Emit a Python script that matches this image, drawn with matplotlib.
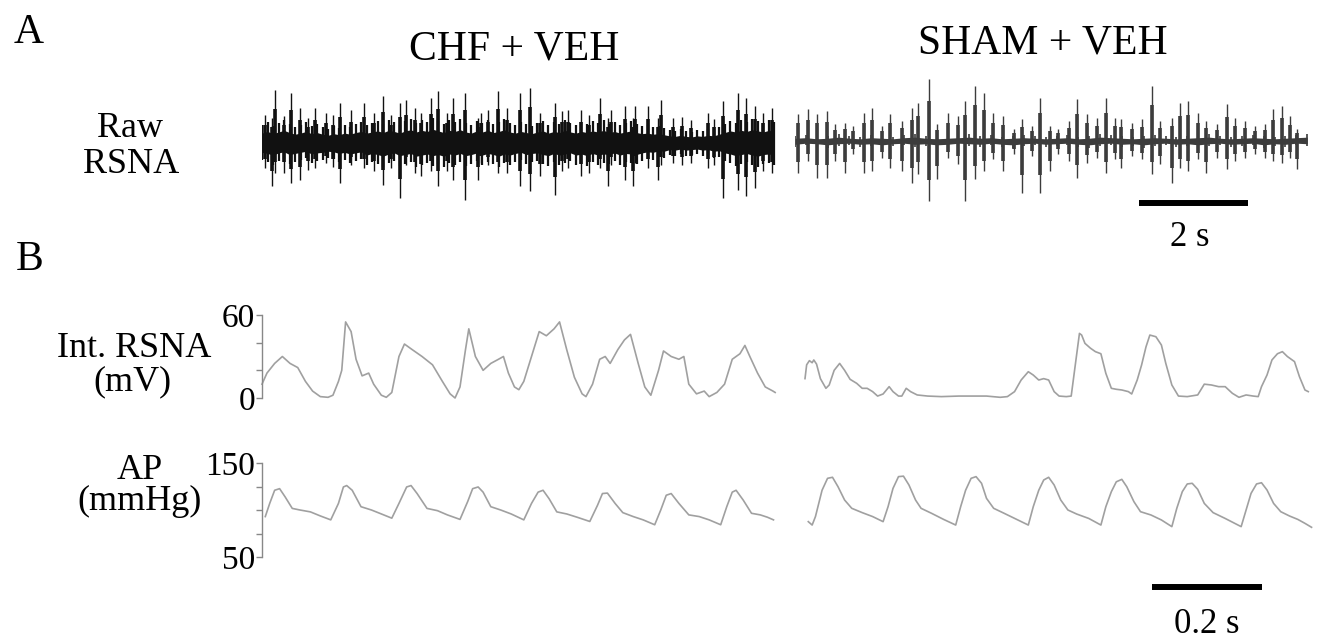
import matplotlib
matplotlib.use('Agg')
import matplotlib.pyplot as plt
import numpy as np

plt.rcParams['font.family'] = ['Liberation Serif', 'DejaVu Serif']

W, H = 1328, 639

# ---- raw RSNA (arbitrary units, 0 = baseline), time in s ----
chf_core_up = [18, 21, 17, 20, 23, 19, 16, 18, 21, 17,
               19, 16, 14, 17, 15, 18, 16, 19, 21, 18,
               20, 22, 19, 23, 21, 18, 22, 24, 20, 23,
               21, 25, 22, 19, 23, 21, 24, 20, 18, 22,
               20, 23, 19, 21, 24, 20, 18, 21, 19, 17,
               20, 22, 18, 21, 19, 23, 20, 18, 21, 19,
               22, 20, 23, 19, 21, 18, 20, 22, 19, 17,
               18, 16, 17, 15, 13, 12, 14, 12, 11, 13,
               12, 14, 13, 16, 19, 22, 20, 23, 21, 24,
               22, 20, 23, 21]
chf_core_dn = [17, 19, 22, 18, 16, 21, 19, 17, 15, 20,
               18, 17, 15, 16, 19, 17, 20, 18, 16, 22,
               19, 21, 24, 20, 18, 23, 21, 19, 24, 22,
               20, 23, 21, 24, 20, 22, 19, 23, 21, 18,
               22, 19, 21, 24, 20, 22, 19, 17, 21, 19,
               18, 21, 23, 19, 22, 20, 18, 22, 20, 23,
               19, 22, 20, 21, 18, 22, 19, 20, 21, 18,
               16, 17, 14, 15, 12, 13, 11, 13, 12, 11,
               13, 12, 15, 14, 18, 20, 23, 21, 19, 22,
               24, 21, 20, 22]
chf_spk_t = [0.05, 0.18, 0.24, 0.40, 0.53, 0.69, 0.85, 0.97, 1.18, 1.30,
             1.43, 1.64, 1.88, 2.05, 2.22, 2.37, 2.53, 2.65, 2.80, 2.92,
             3.11, 3.23, 3.40, 3.51, 3.72, 3.96, 4.02, 4.15, 4.33, 4.50,
             4.73, 4.91, 5.10, 5.37, 5.50, 5.62, 5.86, 6.00, 6.20, 6.35,
             6.41, 6.66, 6.81, 6.84, 7.08, 7.27, 7.33, 7.54, 7.70, 7.88,
             8.18, 8.30, 8.46, 8.73, 8.89, 9.04, 9.20, 9.35]
chf_spk_up = [28, 25, 53, 27, 50, 35, 25, 35, 30, 28,
              40, 33, 40, 30, 47, 28, 40, 43, 35, 30,
              45, 52, 30, 45, 50, 25, 30, 33, 52, 35,
              50, 55, 30, 40, 32, 33, 33, 28, 45, 25,
              33, 37, 25, 37, 37, 25, 43, 25, 26, 23,
              30, 24, 42, 50, 45, 37, 30, 35]
chf_spk_dn = [25, 43, 30, 30, 40, 37, 27, 25, 20, 24,
              40, 22, 25, 28, 42, 25, 55, 22, 30, 33,
              28, 43, 28, 37, 57, 37, 20, 22, 30, 30,
              43, 48, 33, 52, 28, 25, 33, 30, 25, 43,
              22, 37, 43, 20, 25, 37, 22, 20, 22, 20,
              25, 22, 55, 47, 53, 45, 28, 30]

sham_core_up = [5, 6, 4, 5, 7, 5, 4, 6, 5, 4, 6, 7, 5, 4, 5, 6,
                7, 5, 6, 4, 5, 6, 5, 4, 5, 6, 4, 5, 7, 6, 5, 4,
                5, 6, 5, 4, 5, 6, 7, 5, 4, 5, 6, 5, 4, 5, 6, 7]
sham_core_dn = [6, 4, 5, 7, 5, 4, 6, 5, 7, 5, 4, 6, 5, 7, 6, 4,
                5, 6, 4, 6, 7, 5, 4, 6, 5, 4, 6, 7, 5, 4, 6, 5,
                7, 5, 4, 6, 5, 7, 5, 4, 6, 5, 4, 7, 5, 6, 4, 5]
sham_spk_t = [0.06, 0.23, 0.40, 0.58, 0.73, 0.91, 1.07, 1.27, 1.42, 1.59,
              1.74, 1.96, 2.14, 2.26, 2.46, 2.60, 2.81, 3.00, 3.12, 3.30,
              3.47, 3.64, 3.82, 4.01, 4.16, 4.34, 4.50, 4.68, 4.83, 5.02,
              5.17, 5.35, 5.54, 5.71, 5.87, 5.99, 6.18, 6.36, 6.55, 6.70,
              6.91, 7.06, 7.22, 7.40, 7.55, 7.74, 7.92, 8.07, 8.26, 8.44,
              8.62, 8.78, 8.93, 9.08, 9.21]
sham_spk_up = [27, 32, 27, 30, 17, 18, 15, 28, 33, 15,
               27, 20, 33, 38, 62, 17, 28, 25, 40, 55,
               48, 28, 25, 12, 22, 15, 43, 15, 12, 20,
               42, 27, 23, 43, 23, 22, 18, 22, 55, 20,
               23, 38, 40, 28, 20, 17, 37, 23, 20, 15,
               17, 32, 35, 25, 12]
sham_spk_dn = [32, 20, 37, 37, 20, 32, 13, 32, 30, 17,
               27, 30, 42, 33, 60, 38, 17, 23, 60, 38,
               30, 18, 30, 13, 52, 15, 52, 30, 13, 20,
               37, 22, 17, 32, 18, 27, 15, 18, 33, 23,
               42, 27, 30, 18, 32, 17, 28, 20, 17, 13,
               17, 20, 22, 17, 28]

# ---- integrated RSNA (mV), time in ms ----
chf_int_t = [0, 9, 23, 37, 51, 65, 79, 92, 106, 120, 129, 139, 145, 152, 162,
             171, 182, 194, 203, 217, 226, 236, 249, 259, 273, 291, 310, 328,
             342, 351, 360, 370, 376, 388, 402, 416, 430, 439, 448, 459, 467,
             476, 490, 504, 517, 531, 541, 554, 568, 582, 589, 601, 614, 624,
             633, 647, 659, 670, 684, 696, 707, 721, 730, 744, 758, 767, 776,
             790, 804, 813, 827, 841, 855, 869, 878, 887, 901, 915, 929, 933]
chf_int_v = [10, 18, 25, 30, 25, 22, 12, 5, 1, 0.5, 2, 12, 20, 55, 48,
             28, 16, 18, 10, 2, 0.5, 4, 30, 39, 35, 30, 24, 12,
             3, 0, 8, 35, 50, 30, 20, 25, 28, 30, 18, 8, 6,
             12, 30, 48, 45, 50, 55, 35, 15, 3, 1, 10, 28, 30,
             25, 35, 42, 46, 25, 8, 2, 20, 34, 30, 28, 30, 10,
             3, 5, 1, 4, 10, 28, 32, 38, 30, 18, 8, 5, 4]
sham_int_t = [0, 3, 8, 13, 16, 21, 28, 38, 44, 53, 63, 72, 82, 94, 104, 113,
              123, 132, 142, 153, 160, 170, 176, 184, 192, 204, 223, 248, 280,
              305, 330, 355, 368, 381, 393, 406, 415, 425, 434, 443, 453, 462,
              475, 484, 491, 499, 503, 509, 519, 528, 538, 547, 557, 566, 576,
              588, 594, 604, 612, 620, 627, 638, 648, 656, 667, 679, 695, 714,
              726, 739, 752, 764, 777, 789, 802, 815, 824, 830, 840, 849, 859,
              868, 877, 890, 899, 909, 915]
sham_int_v = [14, 24, 27, 25.5, 27.5, 24.5, 14, 7, 9.4, 20, 25, 20, 13.5, 10.6,
              7, 7, 4.6, 1.4, 2.9, 8.2, 4.6, 1.4, 1.4, 7, 4.6, 2.2, 1.4, 1, 1.4,
              1.4, 1.4, 0.5, 1, 4.6, 13, 19, 16.6, 13, 14, 13, 4.6, 1.4,
              1, 1.4, 22.6, 46.7, 45.5, 39.5, 36, 33.5, 32, 17.8, 7, 6.3, 5.8,
              4.6, 2.9, 13, 23.9, 37, 45.5, 44.3, 38.3, 25, 9.4, 1.4, 1, 2.2,
              10, 9.4, 8.2, 8.2, 3.4, 0.5, 2.2, 1.4, 1, 8.2, 16.6, 27.5, 32,
              33.5, 30, 26.3, 15.4, 5.8, 4.6]

# ---- arterial pressure (mmHg), time in ms ----
chf_ap_t = [6, 14, 23, 32, 42, 55, 69, 88, 106, 125, 139, 148, 154, 164, 180,
            199, 217, 236, 249, 263, 271, 282, 300, 319, 337, 360, 374, 383,
            393, 402, 416, 434, 453, 476, 490, 502, 511, 522, 536, 554, 573,
            596, 610, 619, 628, 642, 656, 675, 693, 714, 725, 735, 744, 758,
            776, 795, 813, 834, 845, 855, 862, 875, 890, 906, 919, 930]
chf_ap_v = [93, 107, 121, 122.7, 114, 101.7, 100, 98, 93.7, 89.5, 107, 124.5,
            126, 121, 103.5, 100, 95.8, 91.3, 107, 124.5, 126, 117.5, 101.7,
            99.3, 94.8, 90, 109, 122.7, 124.5, 119, 103.5, 100, 95.8, 89.5,
            107, 119, 121, 112, 98, 95.8, 92.3, 87.8, 105, 117.5, 118, 107,
            97.2, 93, 89.5, 84.3, 100, 115.7, 117.5, 107, 94.8, 93, 89.5,
            84.3, 103.5, 119, 121, 110.5, 96.5, 94.8, 92.3, 89.5]
sham_ap_t = [6, 13, 19, 31, 41, 50, 60, 72, 85, 104, 123, 142, 151, 160, 170,
             179, 189, 201, 211, 230, 252, 274, 283, 292, 302, 311, 321, 330,
             343, 362, 387, 406, 415, 425, 434, 443, 453, 465, 478, 494, 516,
             538, 547, 557, 566, 576, 585, 598, 610, 629, 648, 667, 676, 686,
             695, 704, 714, 726, 742, 764, 793, 802, 811, 821, 830, 840, 852,
             865, 881, 896, 909, 921]
sham_ap_v = [87.6, 84, 93, 121, 133.7, 134.8, 124.8, 110.6, 101.8, 97.2, 93,
             87.6, 103.5, 123, 135.5, 136, 126.6, 110.6, 101.8, 96.5, 90, 84,
             103.5, 121, 133.7, 135.5, 128.4, 112.4, 101.8, 96.5, 89.4, 84,
             103.5, 121, 131.9, 134.8, 126.6, 110.6, 100, 95.7, 91, 84, 103.5,
             119.5, 130, 132.6, 124.8, 108.9, 98.2, 94.7, 89.4, 82.3, 101.8,
             119.5, 127.7, 128.4, 122, 107, 97.2, 91, 82.3, 100, 117.7, 127.7,
             129, 121.3, 107, 98.2, 93.6, 90, 85.8, 81.6]

fig = plt.figure(figsize=(W / 100, H / 100), dpi=100)


def px_axes(x0, y0, x1, y1):
    # axes placed by pixel box (top-left origin)
    ax = fig.add_axes([x0 / W, 1 - y1 / H, (x1 - x0) / W, (y1 - y0) / H])
    for s in ax.spines.values():
        s.set_visible(False)
    ax.set_xticks([])
    ax.set_yticks([])
    ax.patch.set_alpha(0)
    return ax


def label(x, y, s, size, **kw):
    fig.text(x / W, 1 - y / H, s, fontsize=size, **kw)


def raw_trace(ax, core_up, core_dn, spk_t, up, dn, dur, color, core_lw):
    tc = np.linspace(0, dur, len(core_up))
    cu, cd = np.array(core_up), np.array(core_dn)
    up, dn = np.array(up), np.array(dn)
    # dense middle of the band, then ragged edges, then the spikes
    ax.fill_between(tc, -cd * 0.55, cu * 0.55, color=color, lw=0)
    ax.vlines(tc, -cd, cu, color=color, lw=core_lw)
    ax.vlines(spk_t, -dn * 0.65, up * 0.65, color=color, lw=2.6)
    ax.vlines(spk_t, -dn, up, color=color, lw=1.0)
    ax.set_xlim(0, 9.45)
    ax.set_ylim(-70, 70)


def left_axis(ax, ticks, labels):
    ax.spines['left'].set_visible(True)
    ax.spines['left'].set_color('#888888')
    ax.spines['left'].set_linewidth(1.0)
    ax.set_yticks(ticks, labels)
    ax.tick_params(axis='y', direction='out', length=4, width=1.0,
                   color='#888888', labelsize=24, pad=1)


trace_col = '#a0a0a0'

# A: raw RSNA
ax_chf_raw = px_axes(262, 73, 777, 213)
raw_trace(ax_chf_raw, chf_core_up, chf_core_dn, chf_spk_t, chf_spk_up,
          chf_spk_dn, 9.4, '#111111', 1.6)
ax_sham_raw = px_axes(795, 71, 1310, 211)
raw_trace(ax_sham_raw, sham_core_up, sham_core_dn, sham_spk_t, sham_spk_up,
          sham_spk_dn, 9.4, '#3c3c3c', 1.2)
ax_sham_raw.plot([6.31, 8.31], [-62, -62], color='black', lw=4.3,
                 solid_capstyle='butt', clip_on=False)

# B: integrated RSNA
ax_chf_int = px_axes(262, 315, 779, 398)
ax_chf_int.plot(chf_int_t, chf_int_v, color=trace_col, lw=1.2, clip_on=False)
ax_chf_int.set_xlim(0, 940)
ax_chf_int.set_ylim(0, 60)
left_axis(ax_chf_int, [0, 20, 40, 60], ['0', '', '', '60'])

ax_sham_int = px_axes(805, 315, 1322, 398)
ax_sham_int.plot(sham_int_t, sham_int_v, color=trace_col, lw=1.2, clip_on=False)
ax_sham_int.set_xlim(0, 940)
ax_sham_int.set_ylim(0, 60)

# B: arterial pressure
ax_chf_ap = px_axes(262, 463, 779, 557)
ax_chf_ap.plot(chf_ap_t, chf_ap_v, color=trace_col, lw=1.2, clip_on=False)
ax_chf_ap.set_xlim(0, 940)
ax_chf_ap.set_ylim(50, 150)
left_axis(ax_chf_ap, [50, 75, 100, 125, 150], ['50', '', '', '', '150'])

ax_sham_ap = px_axes(805, 463, 1322, 557)
ax_sham_ap.plot(sham_ap_t, sham_ap_v, color=trace_col, lw=1.2, clip_on=False)
ax_sham_ap.set_xlim(0, 940)
ax_sham_ap.set_ylim(50, 150)
ax_sham_ap.plot([631, 831], [18, 18], color='black', lw=4.3,
                solid_capstyle='butt', clip_on=False)

# texts
label(29, 43, 'A', 30, ha='center', va='baseline')
label(30, 270, 'B', 30, ha='center', va='baseline')
label(514, 60, 'CHF + VEH', 30, ha='center', va='baseline')
label(1043, 53, 'SHAM + VEH', 30, ha='center', va='baseline')
label(130, 137, 'Raw', 26, ha='center', va='baseline')
label(131, 173, 'RSNA', 26, ha='center', va='baseline')
label(134, 357, 'Int. RSNA', 26, ha='center', va='baseline')
label(132, 390, '(mV)', 26, ha='center', va='baseline')
label(140, 479, 'AP', 26, ha='center', va='baseline')
label(140, 510, '(mmHg)', 26, ha='center', va='baseline')
label(1190, 246, '2 s', 25, ha='center', va='baseline')
label(1207, 633, '0.2 s', 25, ha='center', va='baseline')

fig.savefig('out.png', dpi=100)
